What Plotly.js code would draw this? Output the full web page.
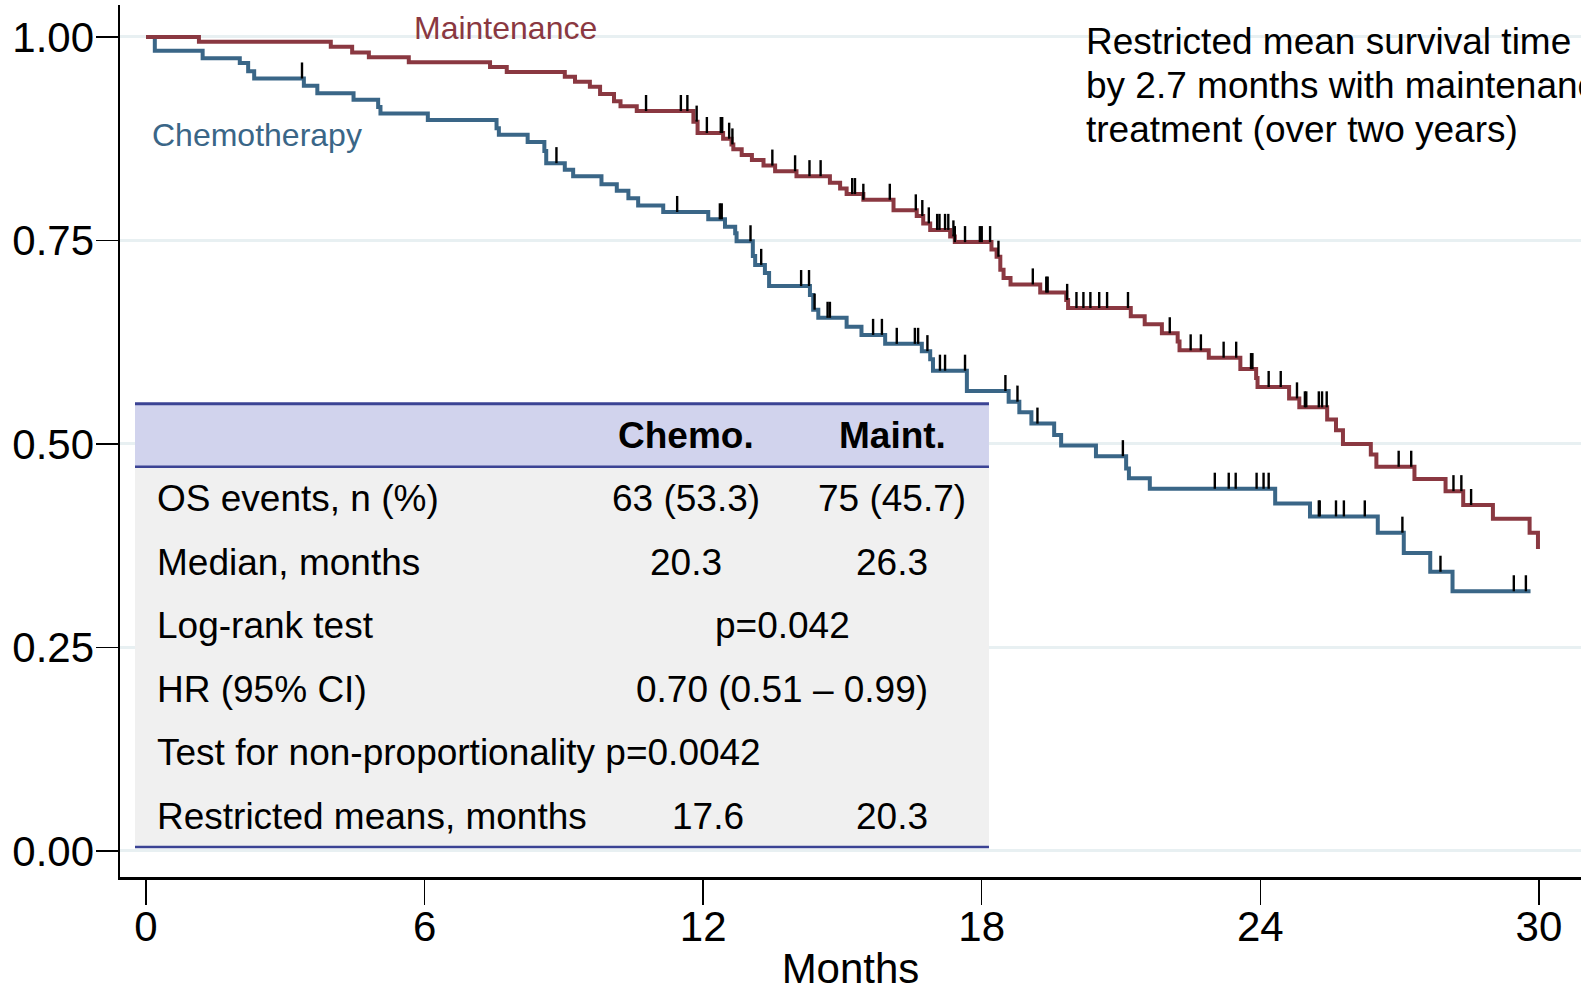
<!DOCTYPE html>
<html>
<head>
<meta charset="utf-8">
<script src="https://cdn.plot.ly/plotly-3.0.1.min.js"></script>
<style>
html,body{margin:0;padding:0;overflow:hidden;background:#fff}
#chart{width:1581px;height:992px}
</style>
</head>
<body>
<div id="chart"></div>
<script>
// ---------- data ----------
const maintTime = [0, 1.14, 3.98, 4.44, 4.80, 5.66, 7.41, 7.77, 9.02, 9.24, 9.56, 9.78, 10.08, 10.22, 10.57, 11.79, 11.88, 12.43, 12.61, 12.65, 12.83, 13.05, 13.30, 13.55, 14.01, 14.73, 14.95, 15.09, 15.45, 16.10, 16.60, 16.74, 16.89, 17.32, 17.42, 18.21, 18.32, 18.40, 18.47, 18.62, 19.26, 19.82, 19.86, 21.21, 21.51, 21.88, 22.22, 22.26, 22.89, 23.57, 23.91, 23.94, 24.62, 24.84, 25.44, 25.63, 25.78, 26.38, 26.50, 27.32, 27.99, 28.37, 29.01, 29.80, 29.98];
const maintSurv = [1.000, 0.994, 0.988, 0.981, 0.975, 0.969, 0.963, 0.957, 0.951, 0.945, 0.939, 0.930, 0.921, 0.915, 0.909, 0.896, 0.882, 0.875, 0.868, 0.862, 0.855, 0.849, 0.842, 0.835, 0.829, 0.821, 0.814, 0.807, 0.800, 0.787, 0.780, 0.771, 0.763, 0.755, 0.748, 0.739, 0.730, 0.714, 0.704, 0.696, 0.686, 0.677, 0.667, 0.657, 0.647, 0.636, 0.626, 0.615, 0.606, 0.592, 0.581, 0.570, 0.556, 0.545, 0.530, 0.517, 0.500, 0.487, 0.472, 0.457, 0.442, 0.425, 0.408, 0.391, 0.371];
const maintEnd = 29.98;
const maintCensor = [10.77, 11.52, 11.66, 11.86, 12.08, 12.38, 12.41, 12.56, 12.63, 13.49, 13.98, 14.29, 14.53, 15.21, 15.27, 15.45, 16.02, 16.58, 16.72, 16.86, 17.04, 17.09, 17.21, 17.28, 17.39, 17.42, 17.64, 17.96, 18.00, 18.18, 18.36, 19.10, 19.39, 19.42, 19.84, 20.04, 20.19, 20.34, 20.53, 20.70, 21.15, 22.05, 22.50, 22.72, 23.21, 23.48, 23.80, 23.83, 24.18, 24.44, 24.79, 24.96, 24.99, 25.26, 25.33, 25.43, 26.98, 27.25, 28.16, 28.33, 28.54];

const chemoTime = [0, 0.19, 1.22, 2.02, 2.20, 2.33, 3.40, 3.69, 4.47, 5.00, 5.05, 6.07, 7.55, 7.60, 8.22, 8.58, 8.62, 9.02, 9.20, 9.81, 10.14, 10.39, 10.60, 11.14, 12.11, 12.47, 12.69, 12.72, 13.07, 13.12, 13.33, 13.42, 14.30, 14.37, 14.48, 15.09, 15.41, 15.92, 16.71, 16.89, 16.95, 17.68, 18.58, 18.81, 19.07, 19.56, 19.71, 20.46, 21.11, 21.17, 21.62, 24.32, 25.07, 26.53, 27.09, 27.66, 28.14];
const chemoSurv = [1.000, 0.983, 0.974, 0.968, 0.958, 0.949, 0.940, 0.931, 0.923, 0.914, 0.906, 0.898, 0.888, 0.880, 0.871, 0.860, 0.845, 0.837, 0.829, 0.819, 0.811, 0.802, 0.793, 0.785, 0.776, 0.767, 0.759, 0.749, 0.731, 0.720, 0.710, 0.694, 0.683, 0.665, 0.655, 0.644, 0.634, 0.623, 0.614, 0.604, 0.590, 0.565, 0.552, 0.539, 0.525, 0.511, 0.498, 0.485, 0.470, 0.458, 0.445, 0.427, 0.411, 0.391, 0.366, 0.343, 0.319];
const chemoEnd = 29.82;
const chemoCensor = [3.36, 8.84, 11.44, 12.36, 12.40, 13.02, 13.25, 14.11, 14.28, 14.40, 14.68, 14.73, 15.66, 15.85, 16.17, 16.56, 16.63, 16.83, 17.10, 17.21, 17.64, 18.51, 18.77, 19.20, 21.04, 23.02, 23.32, 23.47, 23.92, 24.07, 24.18, 25.26, 25.28, 25.63, 25.80, 26.25, 27.06, 27.88, 29.46, 29.72];

const xTicks = [0, 6, 12, 18, 24, 30];
const yTicks = [0, 0.25, 0.5, 0.75, 1];
const yTickText = ['0.00', '0.25', '0.50', '0.75', '1.00'];

const tableHeader = ['Chemo.', 'Maint.'];
const tableLabels = ['OS events, n (%)', 'Median, months', 'Log-rank test', 'HR (95% CI)', 'Test for non-proportionality p=0.0042', 'Restricted means, months'];
const chemoVals = ['63 (53.3)', '20.3', '', '', '', '17.6'];
const maintVals = ['75 (45.7)', '26.3', '', '', '', '20.3'];
const spanVals = ['', '', 'p=0.042', '0.70 (0.51 \u2013 0.99)', '', ''];

const noteLines = ['Restricted mean survival time', 'by 2.7 months with maintenance', 'treatment (over two years)'];

// ---------- styling ----------
const FONT = 'Liberation Sans, Arial, Helvetica, sans-serif';
const RED = '#8A3841';
const BLUE = '#3A6687';
const NAVY = '#3B4394';
const TICKH = 0.0197;

function survAt(times, surv, t) {
  let s = surv[0];
  for (let i = 0; i < times.length; i++) { if (times[i] <= t) s = surv[i]; }
  return s;
}
function curve(times, surv, end) {
  const x = times.slice(), y = surv.slice();
  if (end > times[times.length - 1]) { x.push(end); y.push(surv[surv.length - 1]); }
  return {x, y};
}
function ticks(times, surv, cens) {
  const x = [], y = [];
  cens.forEach(t => { const s = survAt(times, surv, t); x.push(t, t, null); y.push(s, s + TICKH, null); });
  return {x, y};
}

const cc = curve(chemoTime, chemoSurv, chemoEnd);
const mc = curve(maintTime, maintSurv, maintEnd);
const ct = ticks(chemoTime, chemoSurv, chemoCensor);
const mt = ticks(maintTime, maintSurv, maintCensor);

const traces = [
  {x: cc.x, y: cc.y, mode: 'lines', line: {shape: 'hv', color: BLUE, width: 4}, name: 'Chemotherapy', hoverinfo: 'skip'},
  {x: mc.x, y: mc.y, mode: 'lines', line: {shape: 'hv', color: RED, width: 4}, name: 'Maintenance', hoverinfo: 'skip'},
  {x: ct.x, y: ct.y, mode: 'lines', line: {color: '#000', width: 2.4}, hoverinfo: 'skip'},
  {x: mt.x, y: mt.y, mode: 'lines', line: {color: '#000', width: 2.4}, hoverinfo: 'skip'}
];

// table geometry (data coordinates)
const T = {left: -0.237, right: 18.156, top: 0.5494, headBottom: 0.4720, bottom: 0.0049};
const headY = 0.5101;
const rowY = [0.4326, 0.3540, 0.2765, 0.1979, 0.1205, 0.0418];
const labelX = 0.194, chemoX = 11.63, maintX = 16.07, spanX = 13.70;
const chemoXRow = [chemoX, chemoX, chemoX, chemoX, chemoX, 12.10];

const shapes = [
  {type: 'rect', xref: 'x', yref: 'y', x0: T.left, x1: T.right, y0: T.headBottom, y1: T.top, fillcolor: '#D1D3ED', line: {width: 0}, layer: 'above'},
  {type: 'rect', xref: 'x', yref: 'y', x0: T.left, x1: T.right, y0: T.bottom, y1: T.headBottom, fillcolor: '#F0F0F0', line: {width: 0}, layer: 'above'},
  {type: 'line', xref: 'x', yref: 'y', x0: T.left, x1: T.right, y0: T.top, y1: T.top, line: {color: NAVY, width: 3}, layer: 'above'},
  {type: 'line', xref: 'x', yref: 'y', x0: T.left, x1: T.right, y0: T.headBottom, y1: T.headBottom, line: {color: NAVY, width: 2.5}, layer: 'above'},
  {type: 'line', xref: 'x', yref: 'y', x0: T.left, x1: T.right, y0: T.bottom, y1: T.bottom, line: {color: NAVY, width: 2.5}, layer: 'above'}
];

const ann = [];
function txt(text, x, y, size, color, anchor, bold) {
  ann.push({text: bold ? '<b>' + text + '</b>' : text, x, y, xref: 'x', yref: 'y', showarrow: false,
    xanchor: anchor, yanchor: 'middle', font: {family: FONT, size, color}});
}
txt(tableHeader[0], chemoX, headY, 37, '#000', 'center', true);
txt(tableHeader[1], maintX, headY, 37, '#000', 'center', true);
tableLabels.forEach((l, i) => {
  txt(l, labelX, rowY[i], 37, '#000', 'left');
  if (chemoVals[i]) txt(chemoVals[i], chemoXRow[i], rowY[i], 37, '#000', 'center');
  if (maintVals[i]) txt(maintVals[i], maintX, rowY[i], 37, '#000', 'center');
  if (spanVals[i]) txt(spanVals[i], spanX, rowY[i], 37, '#000', 'center');
});
txt('Maintenance', 7.75, 1.0116, 32, RED, 'center');
txt('Chemotherapy', 2.39, 0.880, 32, BLUE, 'center');
const noteY = [0.9943, 0.9403, 0.8862];
noteLines.forEach((l, i) => txt(l, 20.20, noteY[i], 37, '#000', 'left'));

const layout = {
  width: 1581, height: 992,
  margin: {l: 120, r: 0, t: 5, b: 115},
  paper_bgcolor: '#fff', plot_bgcolor: '#fff',
  showlegend: false,
  font: {family: FONT, color: '#000'},
  xaxis: {
    range: [-0.56, 30.907], tickvals: xTicks, ticktext: xTicks.map(String),
    ticks: 'outside', ticklen: 25, tickwidth: 1.5, tickcolor: '#000', ticklabelstandoff: -14,
    showline: true, linecolor: '#000', linewidth: 2.5, showgrid: false, zeroline: false,
    tickfont: {family: FONT, size: 42, color: '#000'}, automargin: false,
    title: {text: 'Months', font: {family: FONT, size: 42, color: '#000'}, standoff: 14}
  },
  yaxis: {
    range: [-0.032, 1.0393], tickvals: yTicks, ticktext: yTickText,
    ticks: 'outside', ticklen: 22, tickwidth: 1.5, tickcolor: '#000', ticklabelstandoff: -7,
    showline: true, linecolor: '#000', linewidth: 2.5, showgrid: true, gridcolor: '#E8F0F2', gridwidth: 3,
    zeroline: false, tickfont: {family: FONT, size: 42, color: '#000'}, automargin: false
  },
  shapes: shapes,
  annotations: ann
};

Plotly.newPlot('chart', traces, layout, {staticPlot: true, displayModeBar: false});
</script>
</body>
</html>
